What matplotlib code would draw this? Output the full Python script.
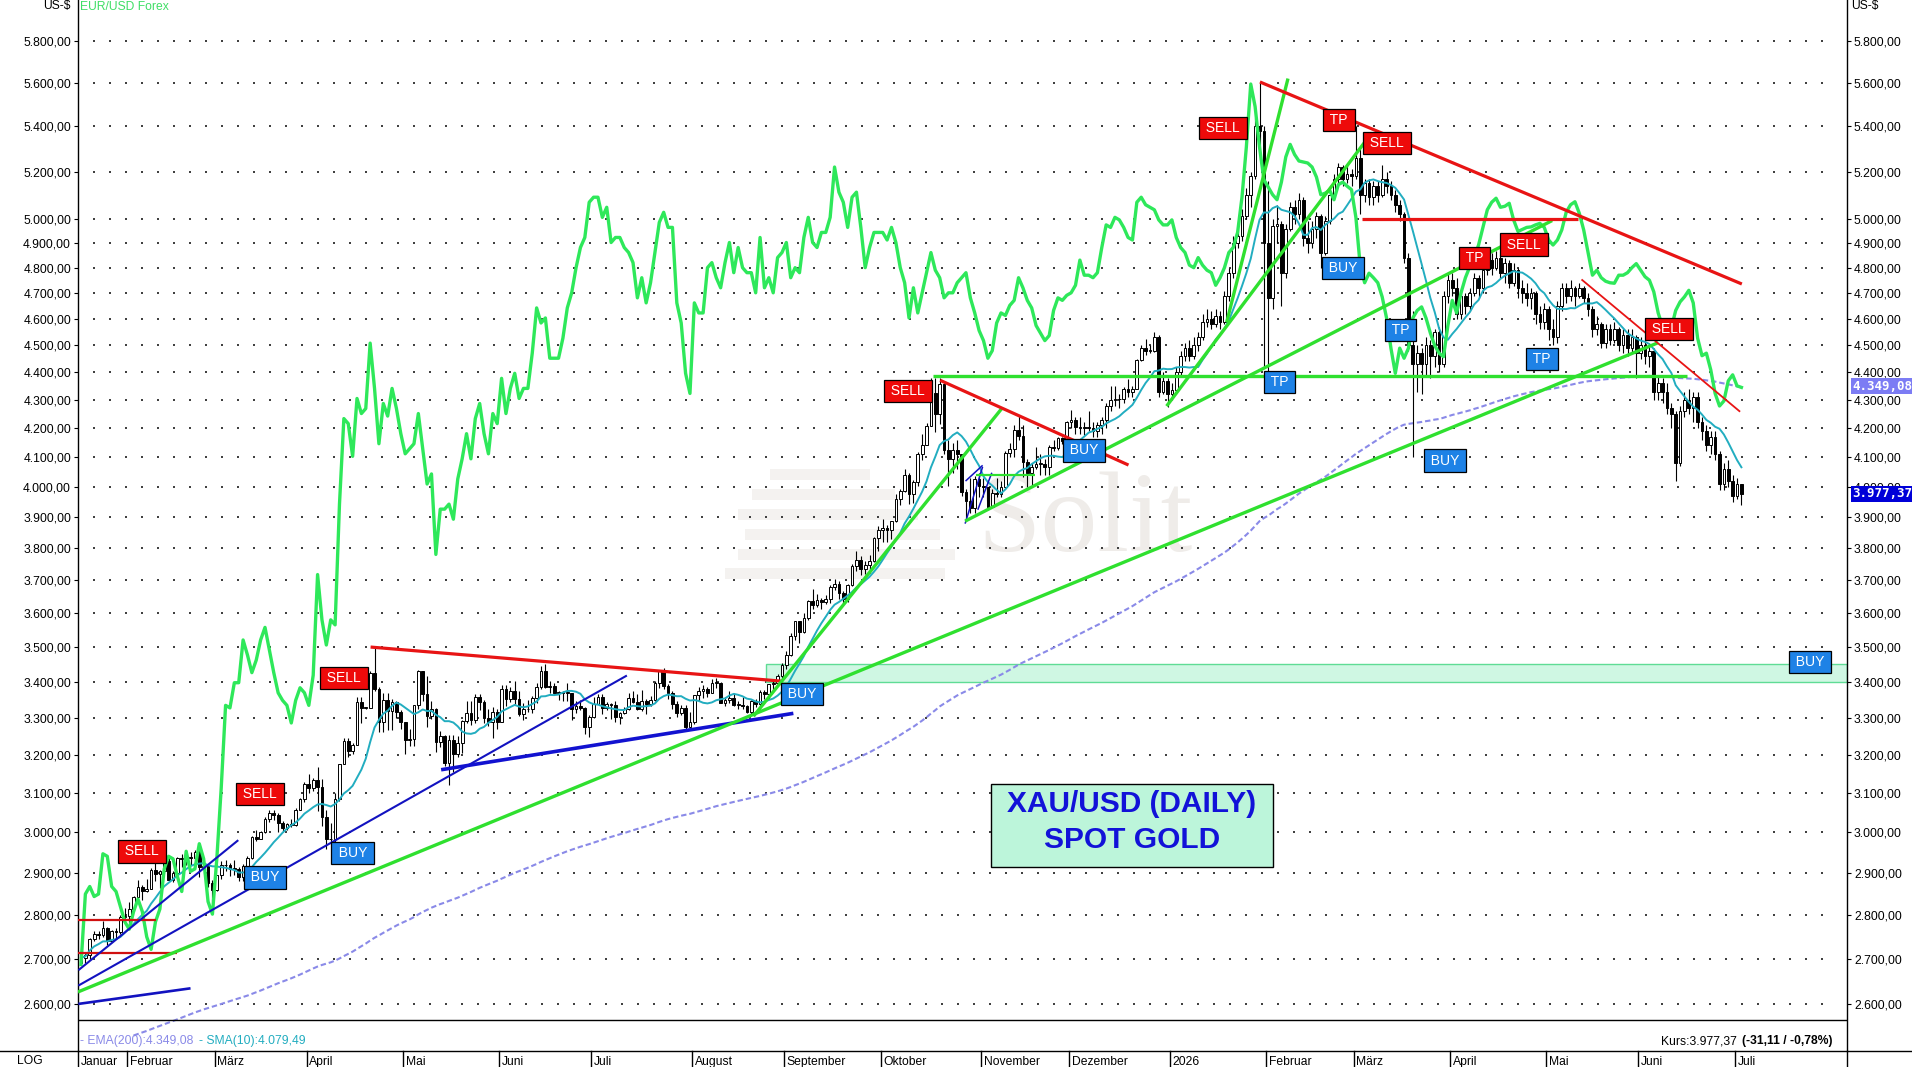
import numpy as np
import pandas as pd
import matplotlib
matplotlib.use("Agg")
import matplotlib.pyplot as plt
from matplotlib import transforms
from matplotlib.patches import Rectangle
from matplotlib.lines import Line2D
from matplotlib.ticker import FixedLocator, NullLocator, NullFormatter, FixedFormatter

plt.rcParams['font.family'] = ['Liberation Sans', 'DejaVu Sans']

# ======================= DATA =======================
dates = pd.bdate_range('2025-01-17', '2026-07-02')

first_open = 2690
close = [
 # Jan 25
 2702, 2708, 2745, 2755, 2754, 2770, 2740, 2763, 2760, 2795, 2798,
 # Feb 25
 2815, 2842, 2866, 2856, 2861, 2908, 2898, 2904, 2928, 2883, 2899, 2935, 2933, 2939, 2936, 2951, 2915, 2916, 2876, 2858,
 # Mar 25
 2894, 2918, 2920, 2910, 2910, 2889, 2916, 2935, 2988, 2984, 3001, 3034, 3048, 3044, 3023, 3011, 3020, 3019, 3057, 3085, 3124,
 # Apr 25
 3113, 3133, 3114, 3037, 2982, 2983, 3083, 3175, 3237, 3210, 3226, 3343, 3327, 3327, 3424, 3381, 3288, 3349, 3319, 3344, 3317, 3288,
 # May 25
 3239, 3241, 3334, 3431, 3365, 3306, 3325, 3235, 3250, 3178, 3240, 3203, 3230, 3290, 3314, 3294, 3357, 3343, 3300, 3288, 3317, 3289,
 # Jun 25
 3380, 3353, 3374, 3353, 3310, 3325, 3323, 3355, 3386, 3432, 3385, 3389, 3369, 3369, 3368, 3368, 3324, 3332, 3328, 3274, 3303,
 # Jul 25
 3339, 3357, 3326, 3337, 3336, 3302, 3313, 3324, 3355, 3343, 3324, 3347, 3339, 3350, 3397, 3432, 3387, 3368, 3337, 3314, 3326, 3275, 3289,
 # Aug 25
 3363, 3373, 3381, 3369, 3396, 3398, 3342, 3348, 3356, 3336, 3336, 3332, 3315, 3347, 3339, 3371, 3365, 3393, 3397, 3417, 3448,
 # Sep 25
 3476, 3533, 3578, 3545, 3587, 3636, 3625, 3640, 3634, 3643, 3679, 3690, 3660, 3643, 3685, 3746, 3764, 3736, 3749, 3760, 3833, 3858,
 # Oct 25
 3866, 3857, 3886, 3960, 3985, 4041, 3975, 4017, 4110, 4143, 4208, 4326, 4251, 4356, 4125, 4095, 4126, 4112, 3982, 3952, 3930, 4025, 4002,
 # Nov 25
 4000, 3932, 3980, 3977, 4000, 4115, 4128, 4195, 4172, 4084, 4045, 4067, 4077, 4078, 4065, 4134, 4130, 4165, 4155, 4220,
 # Dec 25
 4230, 4205, 4200, 4205, 4200, 4190, 4210, 4228, 4280, 4300, 4305, 4302, 4340, 4330, 4340, 4445, 4490, 4480, 4480, 4530, 4330, 4370, 4320,
 # Jan 26
 4335, 4400, 4460, 4490, 4460, 4500, 4530, 4590, 4600, 4580, 4610, 4590, 4690, 4780, 4900, 4930, 5010, 5100, 5180, 5400, 5380, 4900,
 # Feb 26
 4680, 4970, 4980, 4780, 4960, 5050, 5020, 5080, 4920, 4900, 4960, 5010, 4860, 4990, 5100, 5170, 5220, 5170, 5190, 5180,
 # Mar 26
 5260, 5100, 5150, 5090, 5140, 5100, 5170, 5140, 5100, 5060, 5020, 4840, 4500, 4430, 4470, 4430, 4500, 4460, 4550, 4430, 4690, 4750,
 # Apr 26
 4720, 4620, 4690, 4650, 4700, 4760, 4720, 4790, 4830, 4800, 4840, 4780, 4820, 4740, 4790, 4720, 4700, 4680, 4700, 4620, 4590, 4640,
 # May 26
 4560, 4530, 4650, 4720, 4690, 4720, 4690, 4720, 4680, 4640, 4560, 4580, 4510, 4560, 4520, 4560, 4500, 4540, 4490, 4530, 4470,
 # Jun 26
 4500, 4460, 4480, 4330, 4360, 4330, 4270, 4250, 4080, 4260, 4300, 4270, 4310, 4220, 4190, 4140, 4170, 4110, 4010, 4060, 4020, 3970,
 # Jul 26
 4008, 3977.37,
]
high = [
 2725, 2714, 2746, 2763, 2763, 2786, 2772, 2765, 2770, 2800, 2817,
 2830, 2845, 2882, 2870, 2886, 2911, 2942, 2908, 2934, 2942, 2905, 2938, 2947, 2955, 2950, 2956, 2956, 2928, 2918, 2882,
 2894, 2928, 2930, 2925, 2930, 2913, 2921, 2940, 2990, 3005, 3003, 3038, 3057, 3057, 3047, 3027, 3023, 3032, 3060, 3087, 3128,
 3149, 3138, 3168, 3135, 3055, 3023, 3099, 3176, 3245, 3245, 3232, 3358, 3357, 3330, 3430, 3500, 3386, 3368, 3370, 3352, 3346, 3320,
 3283, 3269, 3335, 3435, 3417, 3416, 3346, 3326, 3265, 3253, 3252, 3253, 3250, 3295, 3345, 3345, 3366, 3365, 3350, 3325, 3330, 3325,
 3392, 3392, 3385, 3403, 3375, 3340, 3348, 3360, 3398, 3446, 3451, 3403, 3398, 3375, 3374, 3398, 3368, 3347, 3350, 3330, 3308,
 3358, 3365, 3366, 3344, 3342, 3345, 3317, 3330, 3369, 3375, 3366, 3377, 3352, 3361, 3402, 3434, 3439, 3394, 3373, 3345, 3334, 3334, 3315,
 3363, 3385, 3390, 3385, 3409, 3410, 3399, 3357, 3375, 3370, 3345, 3358, 3334, 3350, 3351, 3378, 3376, 3394, 3402, 3423, 3454,
 3490, 3540, 3578, 3565, 3600, 3640, 3674, 3658, 3645, 3655, 3685, 3703, 3698, 3668, 3688, 3750, 3791, 3776, 3760, 3780, 3835, 3872,
 3895, 3875, 3889, 3977, 3991, 4059, 4045, 4022, 4116, 4179, 4218, 4380, 4381, 4381, 4360, 4160, 4147, 4160, 4110, 3992, 4030, 4036, 4046,
 4030, 4000, 3994, 4028, 4020, 4120, 4148, 4210, 4245, 4210, 4095, 4080, 4133, 4110, 4095, 4140, 4160, 4170, 4170, 4225,
 4265, 4240, 4240, 4220, 4260, 4220, 4220, 4240, 4290, 4350, 4350, 4320, 4345, 4375, 4350, 4450, 4500, 4525, 4500, 4550, 4540, 4400, 4380,
 4360, 4420, 4480, 4510, 4520, 4530, 4550, 4620, 4640, 4630, 4640, 4630, 4710, 4800, 4930, 4990, 5040, 5130, 5200, 5440, 5600, 5400,
 5160, 5000, 5060, 4990, 4980, 5070, 5080, 5110, 5090, 4990, 4990, 5030, 5020, 5010, 5120, 5190, 5240, 5230, 5230, 5210,
 5400, 5300, 5170, 5170, 5160, 5160, 5230, 5200, 5160, 5120, 5080, 5030, 4860, 4630, 4500, 4490, 4530, 4520, 4560, 4570, 4710, 4780,
 4780, 4760, 4710, 4700, 4720, 4780, 4770, 4810, 4850, 4860, 4870, 4850, 4840, 4830, 4820, 4800, 4750, 4740, 4720, 4710, 4650, 4660,
 4650, 4600, 4670, 4740, 4740, 4750, 4730, 4740, 4730, 4700, 4650, 4610, 4590, 4580, 4580, 4590, 4570, 4560, 4560, 4560, 4540,
 4530, 4520, 4500, 4490, 4390, 4380, 4360, 4290, 4260, 4280, 4330, 4340, 4330, 4330, 4240, 4210, 4190, 4190, 4120, 4080, 4090, 4040,
 4030, 4010,
]
low = [
 2697, 2690, 2700, 2740, 2745, 2750, 2730, 2737, 2747, 2755, 2790,
 2772, 2810, 2835, 2834, 2854, 2873, 2880, 2864, 2900, 2880, 2879, 2895, 2913, 2920, 2918, 2930, 2890, 2896, 2867, 2833,
 2857, 2885, 2905, 2893, 2894, 2880, 2881, 2906, 2933, 2979, 2982, 2998, 3026, 3030, 3000, 3000, 3005, 3014, 3016, 3055, 3076,
 3100, 3105, 3054, 3015, 2957, 2970, 2970, 3080, 3175, 3193, 3201, 3228, 3285, 3325, 3330, 3375, 3260, 3261, 3267, 3267, 3300, 3268,
 3202, 3222, 3222, 3325, 3345, 3274, 3297, 3208, 3220, 3170, 3120, 3155, 3195, 3205, 3285, 3280, 3285, 3320, 3285, 3276, 3245, 3270,
 3289, 3333, 3344, 3339, 3306, 3293, 3315, 3312, 3340, 3380, 3382, 3370, 3365, 3348, 3347, 3347, 3295, 3312, 3322, 3255, 3248,
 3300, 3338, 3311, 3322, 3297, 3287, 3283, 3310, 3320, 3341, 3321, 3319, 3310, 3333, 3345, 3383, 3381, 3351, 3325, 3302, 3308, 3268, 3275,
 3282, 3346, 3354, 3358, 3369, 3383, 3341, 3331, 3340, 3332, 3323, 3323, 3312, 3311, 3330, 3321, 3351, 3351, 3375, 3393, 3408,
 3436, 3475, 3520, 3511, 3540, 3580, 3612, 3620, 3613, 3628, 3631, 3670, 3644, 3628, 3633, 3683, 3730, 3717, 3720, 3722, 3758, 3793,
 3820, 3820, 3830, 3885, 3940, 3983, 3944, 3945, 4001, 4090, 4142, 4210, 4185, 4216, 4110, 4004, 4046, 4060, 3970, 3886, 3915, 3915, 3965,
 3965, 3928, 3932, 3965, 3967, 3995, 4100, 4100, 4160, 4032, 4000, 4000, 4061, 4040, 4040, 4040, 4120, 4125, 4145, 4150,
 4200, 4180, 4180, 4175, 4190, 4170, 4170, 4180, 4200, 4260, 4280, 4270, 4290, 4310, 4310, 4340, 4440, 4465, 4470, 4475, 4310, 4320, 4275,
 4300, 4320, 4390, 4440, 4440, 4450, 4480, 4520, 4570, 4560, 4570, 4560, 4580, 4670, 4760, 4880, 4910, 5000, 5050, 5170, 5250, 4420,
 4390, 4640, 4900, 4650, 4760, 4950, 4980, 5000, 4890, 4860, 4880, 4920, 4800, 4850, 4980, 5080, 5140, 5140, 5150, 5140,
 5170, 5020, 5070, 5060, 5060, 5070, 5090, 5110, 5080, 5030, 4990, 4820, 4480, 4100, 4330, 4320, 4390, 4380, 4420, 4400, 4420, 4660,
 4690, 4600, 4600, 4620, 4630, 4690, 4680, 4700, 4770, 4770, 4790, 4760, 4740, 4720, 4730, 4680, 4660, 4650, 4640, 4580, 4560, 4560,
 4520, 4500, 4510, 4630, 4660, 4670, 4650, 4680, 4660, 4610, 4530, 4540, 4490, 4490, 4500, 4510, 4480, 4470, 4460, 4470, 4380,
 4450, 4430, 4420, 4300, 4300, 4290, 4250, 4200, 4020, 4070, 4240, 4250, 4220, 4200, 4160, 4120, 4110, 4090, 3990, 3990, 4000, 3950,
 3960, 3940,
]
eurusd = [
 1.0275, 1.0415, 1.0430, 1.0410, 1.0415, 1.0495, 1.0490, 1.0430, 1.0420, 1.0390, 1.0360,
 1.0345, 1.0380, 1.0405, 1.0380, 1.0330, 1.0305, 1.0360, 1.0385, 1.0465, 1.0490, 1.0485, 1.0450, 1.0420, 1.0500, 1.0460, 1.0465, 1.0515, 1.0485, 1.0400, 1.0375,
 1.0485, 1.0625, 1.0790, 1.0785, 1.0835, 1.0835, 1.0920, 1.0890, 1.0855, 1.0880, 1.0920, 1.0945, 1.0900, 1.0855, 1.0815, 1.0800, 1.0790, 1.0755, 1.0800, 1.0825, 1.0815,
 1.0790, 1.0850, 1.1050, 1.0960, 1.0910, 1.0960, 1.0950, 1.1190, 1.1360, 1.1350, 1.1285, 1.1400, 1.1370, 1.1380, 1.1510, 1.1420, 1.1310, 1.1390, 1.1365, 1.1420, 1.1380, 1.1330,
 1.1290, 1.1300, 1.1310, 1.1370, 1.1300, 1.1230, 1.1250, 1.1090, 1.1180, 1.1180, 1.1190, 1.1160, 1.1240, 1.1280, 1.1330, 1.1280, 1.1360, 1.1390, 1.1330, 1.1290, 1.1370, 1.1350,
 1.1440, 1.1370, 1.1420, 1.1450, 1.1400, 1.1420, 1.1420, 1.1490, 1.1580, 1.1550, 1.1560, 1.1480, 1.1480, 1.1480, 1.1520, 1.1580, 1.1610, 1.1660, 1.1700, 1.1720, 1.1790,
 1.1800, 1.1800, 1.1760, 1.1780, 1.1710, 1.1720, 1.1720, 1.1700, 1.1690, 1.1670, 1.1600, 1.1640, 1.1590, 1.1630, 1.1690, 1.1750, 1.1770, 1.1740, 1.1740, 1.1590, 1.1550, 1.1450, 1.1410,
 1.1590, 1.1570, 1.1570, 1.1660, 1.1670, 1.1640, 1.1620, 1.1670, 1.1710, 1.1650, 1.1700, 1.1660, 1.1650, 1.1650, 1.1610, 1.1720, 1.1620, 1.1640, 1.1610, 1.1680, 1.1690,
 1.1710, 1.1640, 1.1660, 1.1650, 1.1720, 1.1760, 1.1710, 1.1700, 1.1730, 1.1730, 1.1760, 1.1860, 1.1810, 1.1790, 1.1740, 1.1800, 1.1810, 1.1740, 1.1660, 1.1700, 1.1730, 1.1730,
 1.1730, 1.1715, 1.1740, 1.1710, 1.1660, 1.1630, 1.1560, 1.1620, 1.1570, 1.1610, 1.1650, 1.1690, 1.1655, 1.1640, 1.1600, 1.1610, 1.1610, 1.1630, 1.1640, 1.1650, 1.1600, 1.1570, 1.1535,
 1.1515, 1.1480, 1.1495, 1.1550, 1.1570, 1.1565, 1.1585, 1.1595, 1.1640, 1.1620, 1.1595, 1.1580, 1.1545, 1.1530, 1.1515, 1.1525, 1.1575, 1.1600, 1.1595, 1.1605,
 1.1610, 1.1625, 1.1675, 1.1645, 1.1645, 1.1640, 1.1650, 1.1700, 1.1745, 1.1740, 1.1760, 1.1755, 1.1740, 1.1720, 1.1715, 1.1790, 1.1800, 1.1785, 1.1780, 1.1775, 1.1755, 1.1745, 1.1745,
 1.1755, 1.1720, 1.1700, 1.1690, 1.1665, 1.1660, 1.1680, 1.1665, 1.1655, 1.1650, 1.1625, 1.1640, 1.1660, 1.1690, 1.1700, 1.1730, 1.1800, 1.1900, 1.2025, 1.1980, 1.1900, 1.1835,
 1.1820, 1.1805, 1.1795, 1.1830, 1.1880, 1.1905, 1.1885, 1.1872, 1.1870, 1.1868, 1.1860, 1.1840, 1.1805, 1.1808, 1.1814, 1.1795, 1.1825, 1.1830, 1.1822, 1.1815,
 1.1760, 1.1662, 1.1630, 1.1649, 1.1640, 1.1630, 1.1602, 1.1560, 1.1500, 1.1450, 1.1500, 1.1480, 1.1500, 1.1560, 1.1575, 1.1582, 1.1560, 1.1530, 1.1505, 1.1490, 1.1483, 1.1545,
 1.1595, 1.1570, 1.1610, 1.1640, 1.1662, 1.1680, 1.1705, 1.1740, 1.1775, 1.1790, 1.1798, 1.1780, 1.1782, 1.1788, 1.1755, 1.1732, 1.1736, 1.1740, 1.1741, 1.1745, 1.1748, 1.1740,
 1.1715, 1.1705, 1.1715, 1.1735, 1.1770, 1.1785, 1.1791, 1.1768, 1.1735, 1.1690, 1.1645, 1.1655, 1.1640, 1.1633, 1.1630, 1.1629, 1.1645, 1.1645, 1.1650, 1.1660, 1.1668,
 1.1655, 1.1642, 1.1635, 1.1612, 1.1570, 1.1543, 1.1535, 1.1540, 1.1575, 1.1592, 1.1602, 1.1615, 1.1590, 1.1520, 1.1485, 1.1490, 1.1457, 1.1410, 1.1385, 1.1395, 1.1435, 1.1447,
 1.1425, 1.1422,
]
ema_seed = 2500.0

y_ticks = [2600, 2700, 2800, 2900, 3000, 3100, 3200, 3300, 3400, 3500, 3600, 3700, 3800,
           3900, 4000, 4100, 4200, 4300, 4400, 4500, 4600, 4700, 4800, 4900, 5000,
           5200, 5400, 5600, 5800]
month_names = ["Januar", "Februar", "März", "April", "Mai", "Juni", "Juli", "August",
               "September", "Oktober", "November", "Dezember", "2026", "Februar", "März",
               "April", "Mai", "Juni", "Juli"]

ema_value = 4349.08
ema_value_text = "4.349,08"
last_value_text = "3.977,37"
legend_ema = "- EMA(200):4.349,08"
legend_sma = "- SMA(10):4.079,49"
kurs_text = "Kurs:3.977,37"
kurs_change = "(-31,11 / -0,78%)"
title_lines = ["XAU/USD (DAILY)", "SPOT GOLD"]

# annotations: (day index, price)
buy_zone = (156.3, 3400, 3450)
trend_segments = [
    (-0.68, 2788, 17.1, 2788, 'red_h'),
    (-0.68, 2713, 21.8, 2713, 'red_h'),
    (-0.6, 2674, 35.9, 2980, 'blue'),
    (-0.6, 2640, 124.6, 3418, 'blue'),
    (82.2, 3160, 162.6, 3312, 'blue_thick'),
    (-0.6, 2600, 25.0, 2634, 'blue_mid'),
    (201.8, 3879, 205.8, 4067, 'blue_thin'),
    (201.9, 4019, 205.8, 4072, 'blue_thin'),
    (204.7, 3924, 207.9, 4047, 'blue_thin'),
    (66.1, 3500, 159.9, 3402, 'red'),
    (-0.7, 2626, 360.0, 4510, 'green'),
    (153.5, 3304, 210.2, 4270, 'green'),
    (201.8, 3887, 335.8, 4993, 'green'),
    (247.8, 4278, 293.1, 5332, 'green'),
    (261.5, 4587, 275.5, 5620, 'green'),
    (194.5, 4388, 366.5, 4388, 'green'),
    (204.4, 4039, 217.7, 4039, 'green_thin'),
    (196.1, 4371, 239.1, 4073, 'red'),
    (269.1, 5604, 379.1, 4736, 'red'),
    (292.3, 4998, 341.8, 4998, 'red'),
    (342.5, 4754, 378.7, 4258, 'red_thin'),
]
signal_labels = [
    ("SELL", 'r', 13.9, 2952), ("SELL", 'r', 40.8, 3096), ("SELL", 'r', 60.0, 3411),
    ("BUY", 'b', 42.0, 2889), ("BUY", 'b', 62.0, 2949), ("BUY", 'b', 164.6, 3365),
    ("SELL", 'r', 188.7, 4331), ("BUY", 'b', 228.9, 4123), ("SELL", 'r', 260.7, 5393),
    ("TP", 'r', 287.1, 5430), ("SELL", 'r', 298.1, 5327), ("BUY", 'b', 288.1, 4799),
    ("TP", 'b', 273.6, 4364), ("TP", 'b', 301.2, 4559), ("TP", 'r', 318.1, 4840),
    ("SELL", 'r', 329.3, 4894), ("TP", 'b', 333.5, 4450), ("BUY", 'b', 311.3, 4088),
    ("SELL", 'r', 362.4, 4563), ("BUY", 'b', 394.7, 3456),
]

# ======================= STYLE / LAYOUT =======================
W, H = 1912, 1067
AX_L, AX_R, AX_BOT = 78, 1847, 1051
XLIM = (-0.685, 403.1)
YLIM = (2500, 6000)
FX_LIM = (1.0103, 1.2192)
RED, BLUE = '#ee0a0a', '#1e82e6'
styles = {
    'red': dict(color='#e81414', lw=2.3),
    'red_thin': dict(color='#e81414', lw=1.3),
    'red_h': dict(color='#d01010', lw=1.6),
    'blue': dict(color='#1212c0', lw=1.5),
    'blue_thick': dict(color='#1212d0', lw=2.6),
    'blue_mid': dict(color='#1212c0', lw=1.9),
    'blue_thin': dict(color='#1212c0', lw=1.1),
    'green': dict(color='#2fe02f', lw=2.4),
    'green_thin': dict(color='#2fe02f', lw=1.6),
}

def de(v):
    s = f"{v:,.2f}"
    return s.replace(',', 'X').replace('.', ',').replace('X', '.')

n = len(close)
assert len(high) == n and len(low) == n and len(eurusd) == n and len(dates) == n
x = np.arange(n)
c = np.array(close, float)
o = np.r_[first_open, c[:-1]]
h = np.maximum(np.array(high, float), np.maximum(o, c))
l = np.minimum(np.array(low, float), np.minimum(o, c))

sma = pd.Series(c).rolling(10, min_periods=1).mean().values
ema = np.empty(n)
alpha = 2 / 201
prev = ema_seed
for k in range(n):
    prev = prev + alpha * (c[k] - prev)
    ema[k] = prev

fig = plt.figure(figsize=(W / 100, H / 100), dpi=100)
fig.patch.set_facecolor('white')
rect = [AX_L / W, (H - AX_BOT) / H, (AX_R - AX_L) / W, AX_BOT / H]
ax_fx = fig.add_axes(rect, zorder=0)
ax_fx.set_axis_off()
ax_fx.set_xlim(*XLIM)
ax_fx.set_ylim(*FX_LIM)
ax = fig.add_axes(rect, zorder=1)
ax.patch.set_visible(False)
ax.set_yscale('log')
ax.set_xlim(*XLIM)
ax.set_ylim(*YLIM)

# watermark (very faint)
def fpx(xp, yp):
    return xp / W, (H - yp) / H
for x0, x1, yy in [(770, 870, 472), (752, 895, 492), (738, 918, 512), (745, 940, 532), (738, 955, 552), (725, 945, 571)]:
    fx0, fy0 = fpx(x0, yy + 8)
    fig.add_artist(Rectangle((fx0, fy0), (x1 - x0) / W, 11 / H, transform=fig.transFigure,
                             facecolor='#f4f2f0', edgecolor='none', zorder=-2))
fx, fy = fpx(1085, 523)
fig.text(fx, fy, "Solit", fontsize=82, family=['Liberation Serif', 'DejaVu Serif'], color='#efece9',
         ha='center', va='center', zorder=-1)

# dotted grid
blend = transforms.blended_transform_factory(ax.transAxes, ax.transData)
dot_px = 94.3 + 16 * np.arange(109)
XX, YY = np.meshgrid((dot_px - AX_L) / (AX_R - AX_L), y_ticks)
ax.scatter(XX.ravel(), YY.ravel(), s=0.6, marker='s', color='#404040', linewidths=0,
           transform=blend, zorder=1)

# buy zone
ax.add_patch(Rectangle((buy_zone[0], buy_zone[1]), XLIM[1] - buy_zone[0], buy_zone[2] - buy_zone[1],
                       facecolor='#cff7e3', edgecolor='#5fdc95', lw=1.0, zorder=1.5))

# EMA
ax.plot(x[12:], ema[12:], color='#8a8ae8', lw=1.5, dashes=(2.6, 1.4), zorder=2)

# candles
ax.vlines(x, l, h, color='black', lw=0.8, zorder=3)
up = c >= o
blo = np.minimum(o, c)
bh = np.maximum(np.maximum(o, c) - blo, blo * 0.0007)
ax.bar(x[up], bh[up], bottom=blo[up], width=0.62, facecolor='white', edgecolor='black', lw=0.7, zorder=3.2)
ax.bar(x[~up], bh[~up], bottom=blo[~up], width=0.62, facecolor='black', edgecolor='black', lw=0.7, zorder=3.2)

# SMA
ax.plot(x, sma, color='#22adc0', lw=1.4, zorder=3.5)

# EUR/USD on its own (hidden) scale
fx_tr = transforms.blended_transform_factory(ax.transData, ax_fx.transData)
ax.plot(x, eurusd, color='#2ee85a', lw=2.4, transform=fx_tr, zorder=4, solid_joinstyle='round')

# trend lines
for i0, p0, i1, p1, st in trend_segments:
    ax.plot([i0, i1], [p0, p1], solid_capstyle='butt', zorder=5, **styles[st])

# signal labels
for txt, kind, xi, pr in signal_labels:
    ax.text(xi, pr, "\u2009" + txt + "\u2009", ha='center', va='center', color='white', fontsize=10,
            bbox=dict(boxstyle='square,pad=0.3', fc=RED if kind == 'r' else BLUE, ec='black', lw=0.9),
            zorder=8, clip_on=False)

# axes styling
for side in ('top', 'bottom'):
    ax.spines[side].set_visible(False)
for side in ('left', 'right'):
    ax.spines[side].set_linewidth(1.0)
    ax.spines[side].set_color('black')
ax.set_xticks([])
ax.yaxis.set_major_locator(FixedLocator(y_ticks))
ax.yaxis.set_major_formatter(FixedFormatter([de(v) for v in y_ticks]))
ax.yaxis.set_minor_locator(NullLocator())
ax.yaxis.set_minor_formatter(NullFormatter())
ax.tick_params(axis='y', which='major', left=True, right=True, labelleft=True, labelright=True,
               direction='out', length=3, width=0.8, pad=2, labelsize=8.7, colors='black')

# separator line + info row inside bottom of plot
sep_y = (AX_BOT - 1020) / AX_BOT
ax.plot([0, 1], [sep_y, sep_y], transform=ax.transAxes, color='black', lw=1.0, zorder=6)
ly = (AX_BOT - 1041) / AX_BOT
t_ema = ax.text(2 / (AX_R - AX_L), ly, legend_ema, transform=ax.transAxes, color='#8a8ae8', fontsize=8.7,
                ha='left', va='center')
ax.annotate(legend_sma, xy=(1, 0.5), xycoords=t_ema, xytext=(4, 0), textcoords='offset points',
            color='#22adc0', fontsize=8.7, ha='left', va='center')
t_k = ax.text((1832 - AX_L) / (AX_R - AX_L), ly, kurs_change, transform=ax.transAxes, color='black',
              fontsize=8.7, fontweight='bold', ha='right', va='center')
ax.annotate(kurs_text, xy=(0, 0.5), xycoords=t_k, xytext=(-3, 0), textcoords='offset points',
            color='black', fontsize=8.7, ha='right', va='center')

# right-axis value boxes
xb = (1852 - AX_L) / (AX_R - AX_L)
ax.text(xb, ema_value, ema_value_text, transform=blend, color='white', fontsize=9,
        family=['DejaVu Sans Mono'], fontweight='bold', ha='left', va='center', clip_on=False,
        bbox=dict(boxstyle='square,pad=0.12', fc='#7c7cf4', ec='none'), zorder=9)
ax.text(xb, c[-1], last_value_text, transform=blend, color='white', fontsize=9,
        family=['DejaVu Sans Mono'], fontweight='bold', ha='left', va='center', clip_on=False,
        bbox=dict(boxstyle='square,pad=0.12', fc='#0000d8', ec='none'), zorder=9)

# top labels
fig.text(70.7 / W, (H - 6.5) / H, "US-$", ha='right', va='center', fontsize=8.7, color='black')
fig.text(80 / W, (H - 6.5) / H, "EUR/USD Forex", ha='left', va='center', fontsize=8.7, color='#40de66')
fig.text(1851 / W, (H - 6.5) / H, "US-$", ha='left', va='center', fontsize=8.7, color='black')

# bottom month strip
yb = (H - AX_BOT) / H
fig.add_artist(Line2D([0, 1], [yb, yb], transform=fig.transFigure, color='black', lw=1.0))
for xp in (AX_L, AX_R):
    fig.add_artist(Line2D([xp / W, xp / W], [0, yb], transform=fig.transFigure, color='black', lw=1.0))
fig.text(30 / W, (H - 1061) / H, "LOG", ha='center', va='center', fontsize=8.7)
month_first = [0] + [k for k in range(1, n) if dates[k].month != dates[k - 1].month]
strip = transforms.blended_transform_factory(ax.transData, ax.transAxes)
for k, name in zip(month_first, month_names):
    xs = XLIM[0] if k == 0 else k - 0.5
    if k != 0:
        ax.plot([xs, xs], [-16 / AX_BOT, 0], transform=strip, color='black', lw=1.0, clip_on=False)
    ax.text(xs + 0.6, -5 / AX_BOT, name, transform=strip, ha='left', va='top', fontsize=8.7,
            clip_on=False)

# title box
bx0, by0, bx1, by1 = 990.7, 784, 1273.3, 867.3
fig.add_artist(Rectangle((bx0 / W, (H - by1) / H), (bx1 - bx0) / W, (by1 - by0) / H,
                         transform=fig.transFigure, facecolor='#bcf5da', edgecolor='black', lw=1.0, zorder=5))
fig.text((bx0 + bx1) / 2 / W, (H - 804) / H, title_lines[0], ha='center', va='center', fontsize=21.5,
         fontweight='bold', color='#1212d8', zorder=6)
fig.text((bx0 + bx1) / 2 / W, (H - 840) / H, title_lines[1], ha='center', va='center', fontsize=21.5,
         fontweight='bold', color='#1212d8', zorder=6)

fig.savefig('out.png', dpi=100, facecolor='white')
